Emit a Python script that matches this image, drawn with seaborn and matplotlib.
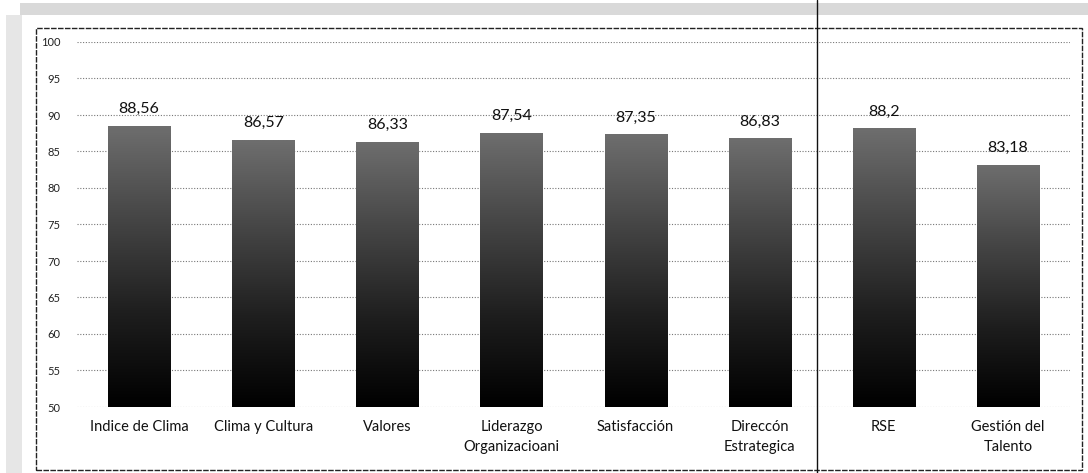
import numpy as np
import pandas as pd
import seaborn as sns
import matplotlib.pyplot as plt
from matplotlib.patches import Rectangle
from matplotlib.lines import Line2D
from matplotlib.colors import LinearSegmentedColormap

categories = ["Indice de Clima", "Clima y Cultura", "Valores", "Liderazgo\nOrganizacioani",
              "Satisfacción", "Direccón\nEstrategica", "RSE", "Gestión del\nTalento"]
values = [88.56, 86.57, 86.33, 87.54, 87.35, 86.83, 88.2, 83.18]
value_labels = ["88,56", "86,57", "86,33", "87,54", "87,35", "86,83", "88,2", "83,18"]
y_ticks = list(range(50, 101, 5))

sns.set_style("white")
plt.rcParams['font.family'] = ['Lato', 'DejaVu Sans']

df = pd.DataFrame({"cat": categories, "val": values})

fig = plt.figure(figsize=(10.88, 4.73), dpi=100)
# faint scan noise around the frame (top band and left strip)
fig.add_artist(Rectangle((20 / 1088, 1 - 15 / 473), 1068 / 1088, 12 / 473,
                         facecolor="#d9d9d9", edgecolor="none"))
fig.add_artist(Rectangle((6 / 1088, 0), 16 / 1088, 1 - 15 / 473,
                         facecolor="#e6e6e6", edgecolor="none"))

ax = fig.add_axes([77 / 1088, 1 - 407 / 473, 993 / 1088, 365 / 473])

sns.barplot(data=df, x="cat", y="val", color="#222222", width=0.5, ax=ax)
ax.set_yticks(y_ticks)
ax.set_yticklabels([str(t) for t in y_ticks], fontsize=8, color="#222222")
ax.tick_params(axis="y", length=0, pad=12)
ax.tick_params(axis="x", length=0, labelsize=10.5, pad=9)
for lbl in ax.get_xticklabels():
    lbl.set_color("#111111")
    lbl.set_linespacing(1.55)
ax.set_xlabel("")
ax.set_ylabel("")
for s in ax.spines.values():
    s.set_visible(False)
ax.yaxis.grid(True, linestyle=(0, (1, 1.5)), color="#777777", linewidth=0.8)
ax.set_axisbelow(True)

# gradient fill inside each bar (grey on top, black at the bottom)
grad = np.linspace(0, 1, 256).reshape(-1, 1)
cmap = LinearSegmentedColormap.from_list("g", ["#000000", "#1e1e1e", "#454545", "#6e6e6e"])
for p in ax.patches:
    x0, y0 = p.get_x(), p.get_y()
    w, h = p.get_width(), p.get_height()
    im = ax.imshow(grad, extent=[x0, x0 + w, 50, y0 + h], origin="lower",
                   cmap=cmap, aspect="auto", zorder=3)
    im.set_clip_path(p)
    p.set_zorder(2)
ax.set_xlim(-0.5, len(categories) - 0.5)
ax.set_ylim(50, 100)

ax.bar_label(ax.containers[0], labels=value_labels, padding=7, fontsize=11.5, color="#111111")

# outer frame and separator line
fig.add_artist(Rectangle((36 / 1088, 1 - 470 / 473), 1046 / 1088, 442 / 473,
                         fill=False, edgecolor="#222222", linewidth=1.0, linestyle=(0, (4, 1))))
fig.add_artist(Line2D([817 / 1088, 817 / 1088], [0, 1], color="#111111", linewidth=1.0))

fig.savefig("out.png", dpi=100)
